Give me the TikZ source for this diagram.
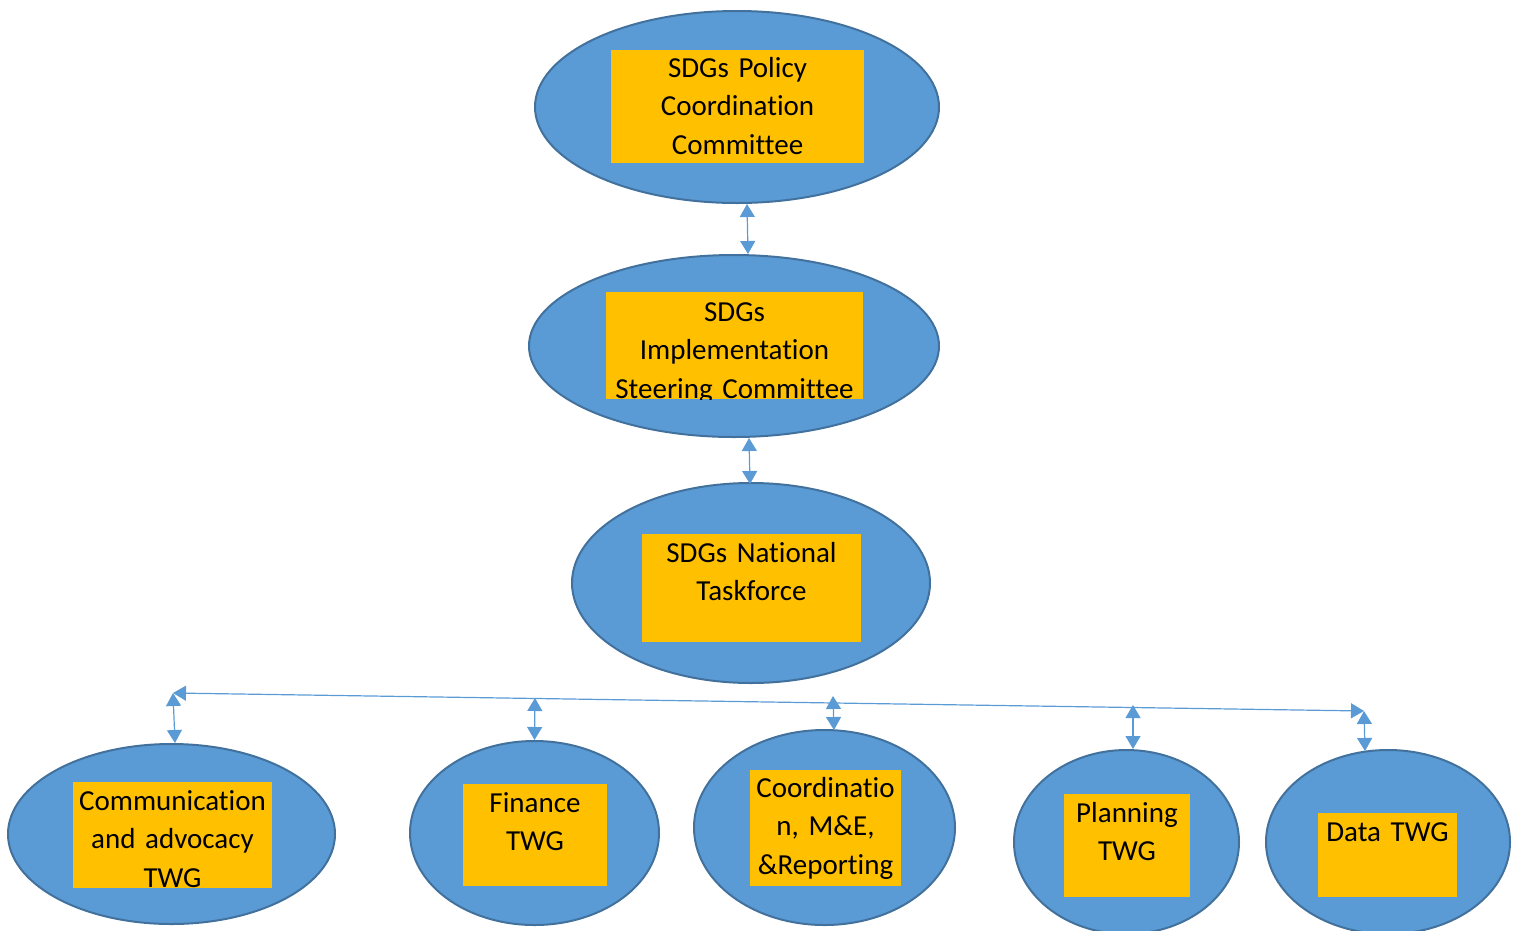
\documentclass[tikz,border=0pt]{standalone}
\usepackage{fontspec}
\setmainfont{Carlito}[Ligatures={NoCommon}]
\usetikzlibrary{shapes.geometric,arrows.meta}
\definecolor{ellfill}{HTML}{5B9BD5}
\definecolor{elldraw}{HTML}{41719C}
\definecolor{boxfill}{HTML}{FFC000}
\definecolor{arrcol}{HTML}{5B9BD5}
\begin{document}
\begin{tikzpicture}[x=1pt,y=-1pt,
  ell/.style={ellipse,fill=ellfill,draw=elldraw,line width=2pt,inner sep=0pt},
  ybox/.style={rectangle,fill=boxfill,inner sep=0pt},
  lbl/.style={anchor=base,text width=320pt,align=center,inner sep=0pt,font=\fontsize{29}{38.5}\selectfont},
  arr/.style={draw=arrcol,line width=1.2pt,{Triangle[length=13pt,width=15pt]}-{Triangle[length=13pt,width=15pt]}}
]
\useasboundingbox (0,0) rectangle (1518,930);

% ellipses
\node[ell,minimum width=404pt,minimum height=192pt] (pc) at (737,107) {};
\node[ell,minimum width=410pt,minimum height=182pt] (sc) at (734,346) {};
\node[ell,minimum width=358pt,minimum height=200pt] (tf) at (751,583) {};
\node[ell,minimum width=327pt,minimum height=180pt] (comm) at (171.5,834) {};
\node[ell,minimum width=249pt,minimum height=184pt] (fin) at (534.5,833) {};
\node[ell,minimum width=261pt,minimum height=195pt] (coord) at (824.5,827.5) {};
\node[ell,minimum width=225pt,minimum height=184pt] (plan) at (1126.5,842) {};
\node[ell,minimum width=244pt,minimum height=184pt] (data) at (1388,842) {};

% boxes
\node[ybox,minimum width=253pt,minimum height=113pt] (pcb) at (737.5,106.5) {};
\node[ybox,minimum width=257pt,minimum height=107pt] (scb) at (734.5,345.5) {};
\node[ybox,minimum width=219pt,minimum height=108pt] (tfb) at (751.5,588) {};
\node[ybox,minimum width=199pt,minimum height=106pt] (commb) at (172.5,835) {};
\node[ybox,minimum width=144pt,minimum height=102pt] (finb) at (535,835) {};
\node[ybox,minimum width=151pt,minimum height=116pt] (coordb) at (825.5,828) {};
\node[ybox,minimum width=126pt,minimum height=103pt] (planb) at (1127,845.5) {};
\node[ybox,minimum width=139pt,minimum height=84pt] (datab) at (1387.5,855) {};

% labels (clipped to their boxes)
\begin{scope}\clip (pcb.south west) rectangle (pcb.north east);
\node[lbl] (pct) at (737.5,77) {SDGs Policy\\Coordination\\Committee};\end{scope}
\begin{scope}\clip (scb.south west) rectangle (scb.north east);
\node[lbl] (sct) at (734.5,321) {SDGs\\Implementation\\Steering Committee};\end{scope}
\begin{scope}\clip (tfb.south west) rectangle (tfb.north east);
\node[lbl] (tft) at (751.5,562) {SDGs National\\Taskforce};\end{scope}
\begin{scope}\clip (commb.south west) rectangle (commb.north east);
\node[lbl] (commt) at (172.5,810) {Communication\\and advocacy\\TWG};\end{scope}
\begin{scope}\clip (finb.south west) rectangle (finb.north east);
\node[lbl] (fint) at (535,812) {Finance\\TWG};\end{scope}
\begin{scope}\clip (coordb.south west) rectangle (coordb.north east);
\node[lbl] (coordt) at (825.5,797) {Coordinatio\\n, M\&E,\\\&Reporting};\end{scope}
\begin{scope}\clip (planb.south west) rectangle (planb.north east);
\node[lbl] (plant) at (1127,822) {Planning\\TWG};\end{scope}
\begin{scope}\clip (datab.south west) rectangle (datab.north east);
\node[lbl] (datat) at (1387.5,841) {Data TWG};\end{scope}

% connectors
\draw[arr] ([xshift=10pt]pc.south) -- ([xshift=14pt]sc.north);
\draw[arr] ([xshift=15pt]sc.south) -- ([xshift=-1pt,yshift=-2pt]tf.north);

\coordinate (busL) at (173,693);
\coordinate (busR) at (1364,711);
\coordinate (busF) at (535,698);
\coordinate (busC) at (833,696);
\coordinate (busP) at (1133,705);
\draw[arr] (busL) -- (busR);
\draw[arr] (busL) -- ([xshift=3.5pt]comm.north);
\draw[arr] (busF) -- (fin.north);
\draw[arr] (busC) -- ([xshift=9.5pt,yshift=-1pt]coord.north);
\draw[arr] (busP) -- ([xshift=6.5pt]plan.north);
\draw[arr] (busR) -- ([xshift=-23pt,yshift=-2pt]data.north);
\end{tikzpicture}
\end{document}
